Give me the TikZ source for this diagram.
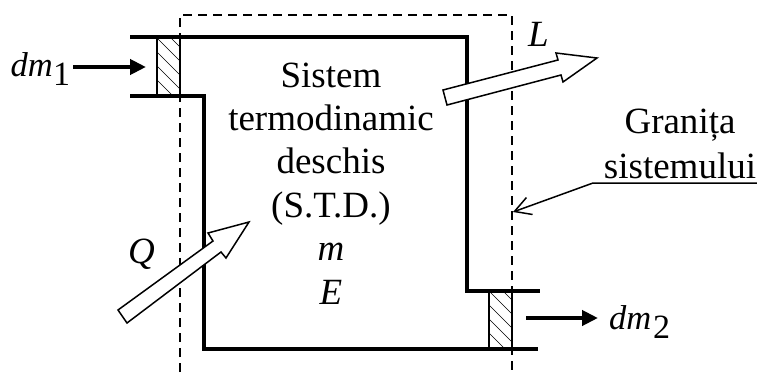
\documentclass[tikz,border=0pt]{standalone}
\usepackage{fontspec}
\setmainfont{Liberation Serif}
\usetikzlibrary{arrows.meta}
\tikzset{
  wall/.style={line width=3.9pt,line cap=butt,line join=miter},
  boundary/.style={line width=1.5pt,dash pattern=on 9pt off 6pt},
  hatchbox/.style={line width=1.4pt},
  hatchline/.style={line width=0.7pt},
  flow/.style={line width=4pt,-{Triangle[length=16pt,width=15pt]}},
  bigarrow/.style={draw=black,fill=white,line width=1.5pt,line join=miter},
  txt/.style={inner sep=0pt,anchor=base,font=\fontsize{37}{37}\selectfont},
  itc/.style={inner sep=0pt,anchor=base,font=\fontsize{37}{37}\selectfont\itshape},
  ital/.style={inner sep=0pt,anchor=base west,font=\fontsize{37}{37}\selectfont\itshape},
  dmtxt/.style={inner sep=0pt,anchor=base west,font=\fontsize{34.5}{34.5}\selectfont\itshape},
  subs/.style={inner sep=0pt,anchor=base west,font=\fontsize{34}{34}\selectfont},
  pointer/.style={line width=1.5pt,line join=miter,-{Straight Barb[length=16pt,width=18pt,line width=1.5pt]}}
}
\newcommand{\hatchrect}[4]{%
  \begin{scope}
    \clip (#1,#2) rectangle (#3,#4);
    \foreach \k in {-70,-56,...,100}
      \draw[hatchline] (#1+\k,#2) -- (#1+\k+70,#2+70);
  \end{scope}
  \draw[hatchbox] (#1,#2) rectangle (#3,#4);}
\begin{document}
\begin{tikzpicture}[x=1pt,y=-1pt]
\useasboundingbox (0,0) rectangle (757,372);
% boundary
\draw[boundary] (180,372) -- (180,15) -- (512,15) -- (512,372);
% hatched sections
\hatchrect{157}{38}{180}{96}
\hatchrect{489}{291}{512}{349}
% walls
\draw[wall] (130,37) -- (467,37) -- (467,291) -- (540,291);
\draw[wall] (130,96) -- (204,96) -- (204,349) -- (538,349);
% big arrows
\draw[bigarrow] (443,90) -- (558,60) -- (556,53) -- (597,58) -- (563,82) -- (561,75) -- (447,105) -- cycle;
\draw[bigarrow] (118,310) -- (213,241) -- (208,233) -- (249,222) -- (226,258) -- (221,252) -- (127,323) -- cycle;
% mass flows
\node[dmtxt] (dmone) at (10.5,76) {dm};
\node[subs] (subone) at (53,85) {1};
\node[dmtxt] (dmtwo) at (609,329) {dm};
\node[subs] (subtwo) at (653,338) {2};
\coordinate (fa) at (73,67); \coordinate (fb) at (146,67);
\coordinate (fc) at (526,318); \coordinate (fd) at (598,318);
\draw[flow] (fa) -- (fb);
\draw[flow] (fc) -- (fd);
% labels
\node[ital] (lab) at (528,46) {L};
\node[ital] (qlab) at (128,263) {Q};
\node[txt] (t1) at (331,87) {Sistem};
\node[txt] (t2) at (331,130) {termodinamic};
\node[txt] (t3) at (331,173) {deschis};
\node[txt] (t4) at (331,217) {(S.T.D.)};
\node[itc] (t5) at (331,260) {m};
\node[itc] (t6) at (331,304) {E};
\node[txt] (g1) at (680,133) {Grani\char"021B a};
\node[txt] (g2) at (680,178) {sistemului};
% pointer
\coordinate (ua) at (757,183); \coordinate (ub) at (593,183); \coordinate (uc) at (513,212);
\draw[pointer] (ua) -- (ub) -- (uc);
\end{tikzpicture}
\end{document}
